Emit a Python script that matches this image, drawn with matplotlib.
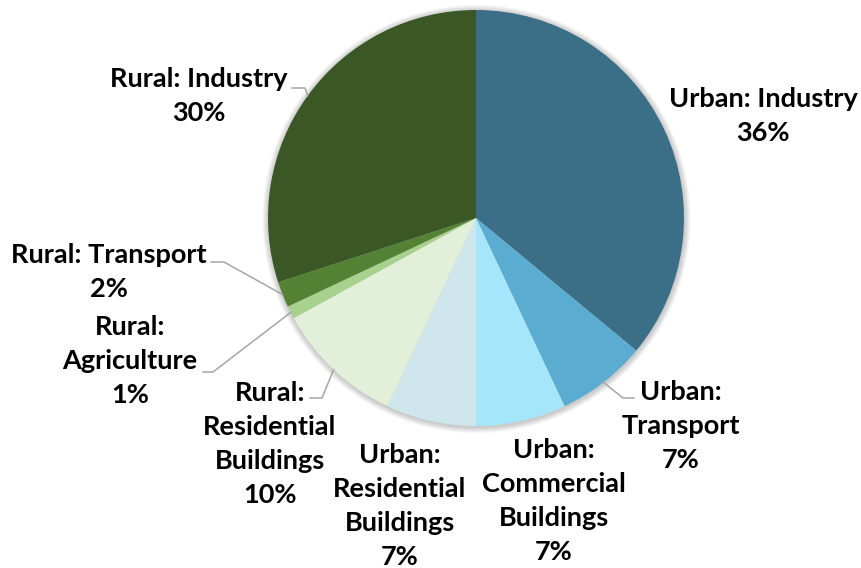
import matplotlib
matplotlib.use("Agg")
import matplotlib.pyplot as plt
import numpy as np

# data
categories = ["Urban: Industry", "Urban: Transport", "Urban: Commercial Buildings",
              "Urban: Residential Buildings", "Rural: Residential Buildings",
              "Rural: Agriculture", "Rural: Transport", "Rural: Industry"]
label_text = ["Urban: Industry\n36%", "Urban:\nTransport\n7%",
              "Urban:\nCommercial\nBuildings\n7%", "Urban:\nResidential\nBuildings\n7%",
              "Rural:\nResidential\nBuildings\n10%", "Rural:\nAgriculture\n1%",
              "Rural: Transport\n2%", "Rural: Industry\n30%"]
shares = [36, 7, 7, 7, 10, 1, 2, 30]
colors = ["#3B6E87", "#5BACD1", "#A5E6FA", "#CFE6EC",
          "#E2EFD9", "#A9D18E", "#548235", "#3A5725"]

W, H = 861, 568
# label block centres and leader elbows in pixel coords (y down)
label_pos = [(763, 116), (681, 426), (554, 501), (400, 506),
             (270, 444), (130, 361), (109, 272), (199, 96)]
leaders = {1: [(634, 398), (623, 398)],
           4: [(310, 398), (322, 398)],
           5: [(203, 372), (213, 372)],
           6: [(211, 262), (224, 262)],
           7: [(292, 88), (305, 88)]}

plt.rcParams['font.family'] = ['Lato', 'DejaVu Sans']

fig = plt.figure(figsize=(W / 100, H / 100), dpi=100)
ax = fig.add_axes([0, 0, 1, 1])

cx, cy, r = 476, H - 218, 208

# soft glow round the pie
for k in range(6):
    ax.add_patch(plt.Circle((cx + 0.5, cy - 1), r + 1 + k, color="black",
                            alpha=0.035, lw=0, zorder=0))

wedges, _ = ax.pie(shares, colors=colors, startangle=90, counterclock=False,
                   center=(cx, cy), radius=r, frame=True,
                   wedgeprops=dict(linewidth=0))
ax.set_xlim(0, W)
ax.set_ylim(0, H)
ax.set_aspect("equal")
ax.axis("off")

for i, w in enumerate(wedges):
    x, y = label_pos[i]
    ax.text(x, H - y, label_text[i], ha="center", va="center", fontsize=19.5,
            fontweight="bold", color="black", linespacing=1.49)
    if i in leaders:
        mid = np.deg2rad((w.theta1 + w.theta2) / 2)
        px, py = cx + r * np.cos(mid), cy + r * np.sin(mid)
        pts = [(a, H - b) for a, b in leaders[i]] + [(px, py)]
        xs, ys = zip(*pts)
        ax.plot(xs, ys, color="#A6A6A6", lw=1.1, zorder=3)

fig.savefig("out.png", dpi=100)
